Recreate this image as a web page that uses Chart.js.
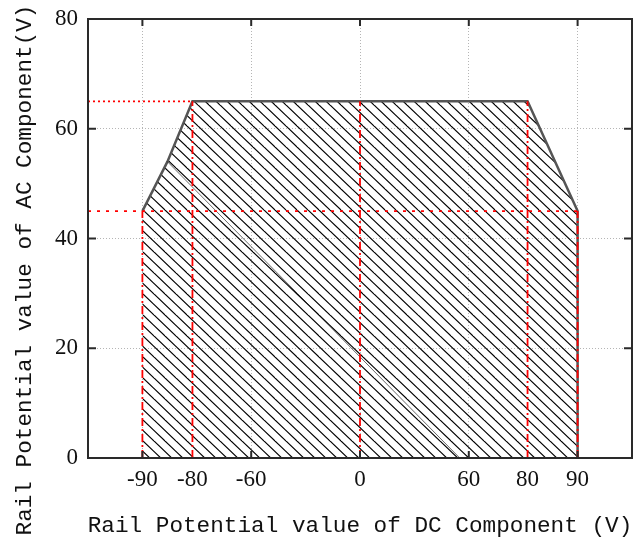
<!DOCTYPE html>
<html>
<head>
    <meta charset="UTF-8">
    <title>Rail potential region</title>
    <script src="https://cdn.jsdelivr.net/npm/chart.js@4.4.0/dist/chart.umd.min.js"></script>
    <style type="text/css">
        body { margin: 0px; padding: 0px; background: #fff; }
    </style>
</head>
<body>
<canvas id="railChart" width="640" height="540"></canvas>
<script type="text/javascript">

    // DC axis labels and where each one sits on the (non-linear) axis
    var dcTicks = [-90, -80, -60, 0, 60, 80, 90];
    var dcAxisPos = [-4, -3.08, -2, 0, 2, 3.08, 4];
    var dcGridTicks = [-90, -60, 0, 60, 90];

    // AC axis
    var acTicks = [0, 20, 40, 60, 80];

    // boundary of the allowed region (DC, AC)
    var regionDC = [-90, -85, -80, 80, 90, 90];
    var regionAC = [45, 54, 65, 65, 45, 0];

    // doubled hatch stroke inside the region
    var seamDC = [-85, 55];
    var seamAC = [54, 0];

    // red vertical guides
    var guideDC = [-90, -80, 0, 80, 90];
    var guideTop = [45, 65, 65, 65, 45];

    // red horizontal guides
    var levelAC = [65, 45];
    var levelEnd = [-80, 90];

    function toAxis(v) {
        for (var i = 0; i < dcTicks.length - 1; i++) {
            if (v <= dcTicks[i + 1]) {
                var t = (v - dcTicks[i]) / (dcTicks[i + 1] - dcTicks[i]);
                return dcAxisPos[i] + t * (dcAxisPos[i + 1] - dcAxisPos[i]);
            }
        }
        return dcAxisPos[dcAxisPos.length - 1];
    }

    function hatchPattern() {
        var c = document.createElement('canvas');
        c.width = 22;
        c.height = 21;
        var g = c.getContext('2d');
        g.strokeStyle = '#000';
        g.lineWidth = 1.2;
        g.beginPath();
        [-22, -11, 0, 11, 22].forEach(function (ox) {
            g.moveTo(ox - 22, -21);
            g.lineTo(ox + 22, 21);
        });
        g.stroke();
        return g.createPattern(c, 'repeat');
    }

    var datasets = [];

    guideDC.forEach(function (v, i) {
        datasets.push({
            data: [{x: toAxis(v), y: 0}, {x: toAxis(v), y: guideTop[i]}],
            borderColor: '#ff0000', borderWidth: 1.8, borderDash: [8, 3, 2, 3],
            pointRadius: 0, fill: false
        });
    });

    levelAC.forEach(function (v, i) {
        datasets.push({
            data: [{x: -5, y: v}, {x: toAxis(levelEnd[i]), y: v}],
            borderColor: '#ff0000', borderWidth: 1.8, borderDash: i == 0 ? [2, 3] : [3, 6],
            pointRadius: 0, fill: false
        });
    });

    datasets.push({
        data: seamDC.map(function (v, i) { return {x: toAxis(v), y: seamAC[i]}; }),
        borderColor: 'rgba(0,0,0,0.6)', borderWidth: 1, pointRadius: 0, fill: false
    });

    datasets.push({
        data: regionDC.map(function (v, i) { return {x: toAxis(v), y: regionAC[i]}; }),
        borderColor: '#555', borderWidth: 2.5,
        backgroundColor: hatchPattern(),
        pointRadius: 0, fill: 'origin'
    });

    // frame, inward tick marks and the two axis titles
    var framePlugin = {
        id: 'frame',
        afterDraw: function (chart) {
            var ctx = chart.ctx;
            var a = chart.chartArea;
            var xs = chart.scales.x, ys = chart.scales.y;
            ctx.save();
            ctx.strokeStyle = '#2a2a2a';
            ctx.lineWidth = 2;
            ctx.strokeRect(a.left, a.top, a.right - a.left, a.bottom - a.top);
            ctx.beginPath();
            dcGridTicks.forEach(function (v) {
                var px = xs.getPixelForValue(toAxis(v));
                ctx.moveTo(px, a.bottom); ctx.lineTo(px, a.bottom - 7);
                ctx.moveTo(px, a.top); ctx.lineTo(px, a.top + 7);
            });
            acTicks.forEach(function (v) {
                var py = ys.getPixelForValue(v);
                ctx.moveTo(a.left, py); ctx.lineTo(a.left + 8, py);
                ctx.moveTo(a.right, py); ctx.lineTo(a.right - 8, py);
            });
            ctx.stroke();

            ctx.fillStyle = '#111';
            ctx.font = '22.7px "Liberation Mono"';
            ctx.textAlign = 'center';
            ctx.textBaseline = 'middle';
            ctx.fillText('Rail Potential value of DC Component (V)', 360, 526);
            ctx.translate(25, 270);
            ctx.rotate(-Math.PI / 2);
            ctx.fillText('Rail Potential value of AC Component(V)', 0, 0);
            ctx.restore();
        }
    };

    var ctx = document.getElementById('railChart').getContext('2d');
    var railChart = new Chart(ctx, {
        type: 'line',
        data: { datasets: datasets },
        options: {
            responsive: false,
            animation: false,
            layout: { padding: { top: 19, right: 8, left: 0, bottom: 0 } },
            plugins: { legend: { display: false }, tooltip: { enabled: false } },
            scales: {
                x: {
                    type: 'linear', min: -5, max: 5,
                    afterBuildTicks: function (scale) {
                        scale.ticks = dcAxisPos.map(function (p) { return {value: p}; });
                    },
                    afterFit: function (scale) {
                        scale.height = 82;
                        scale.paddingLeft = 0;
                        scale.paddingRight = 0;
                    },
                    grid: {
                        drawTicks: false,
                        color: function (c) {
                            return Math.abs(Math.abs(c.tick.value) - 3.08) < 0.01 ? 'rgba(0,0,0,0)' : '#b5b5b5';
                        },
                        lineWidth: 1
                    },
                    border: { display: false, dash: [1, 2] },
                    ticks: {
                        autoSkip: false, maxRotation: 0, padding: 8,
                        color: '#111',
                        font: { family: '"Liberation Serif"', size: 23 },
                        callback: function (value, index) { return String(dcTicks[index]); }
                    }
                },
                y: {
                    min: 0, max: 80,
                    afterFit: function (scale) {
                        scale.width = 88;
                        scale.paddingTop = 0;
                        scale.paddingBottom = 0;
                    },
                    grid: {
                        drawTicks: false,
                        color: function (c) {
                            return (c.tick.value == 0 || c.tick.value == 80) ? 'rgba(0,0,0,0)' : '#b5b5b5';
                        },
                        lineWidth: 1
                    },
                    border: { display: false, dash: [1, 2] },
                    ticks: {
                        stepSize: 20, padding: 10,
                        color: '#111',
                        font: { family: '"Liberation Serif"', size: 23 }
                    }
                }
            }
        },
        plugins: [framePlugin]
    });
</script>
</body>
</html>
